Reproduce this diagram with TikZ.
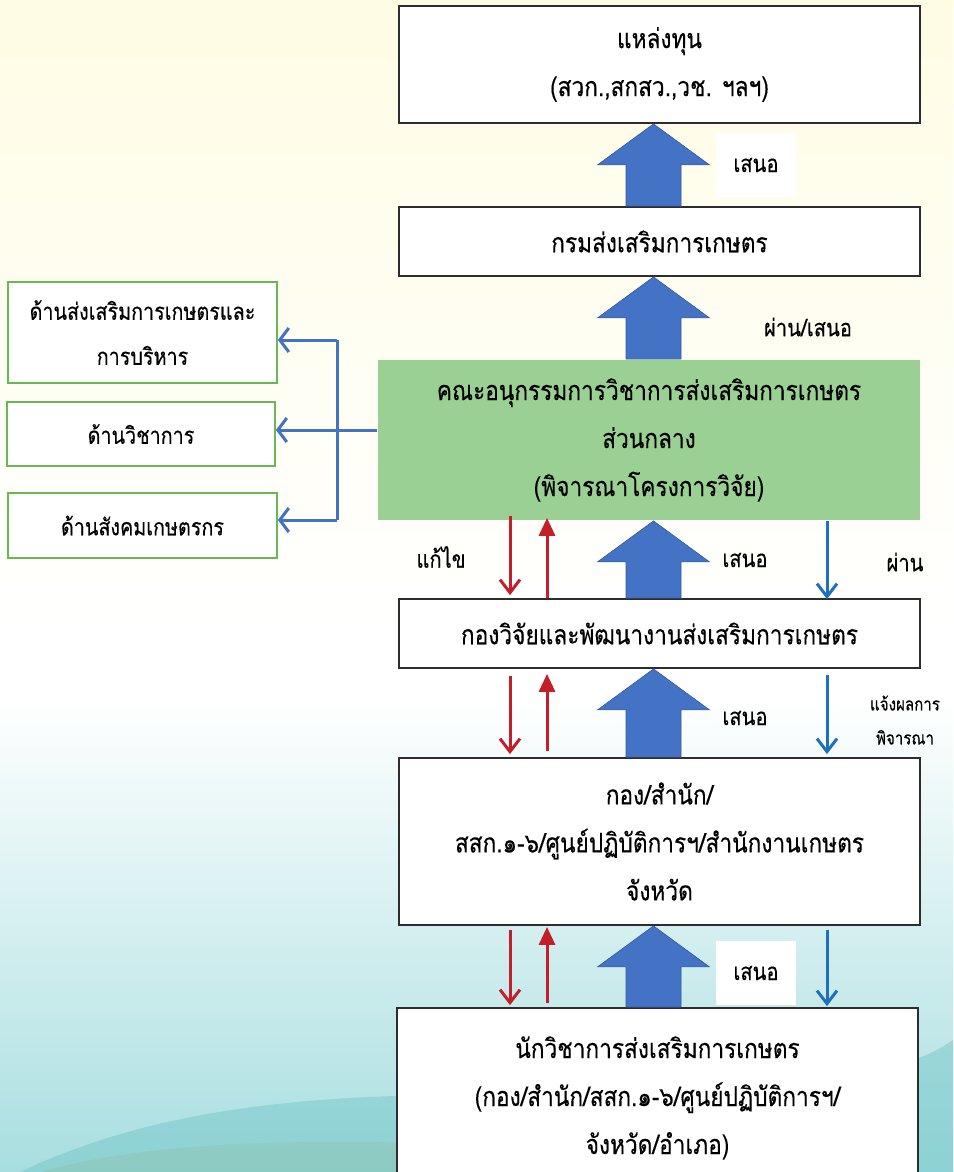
\documentclass[tikz,border=0pt]{standalone}
\usepackage{fontspec}
\newfontfamily\thai[Script=Thai,FakeStretch=0.84,FakeBold=0.3]{Loma}
\usetikzlibrary{arrows.meta,calc}
\definecolor{boxblue}{RGB}{68,114,196}
\definecolor{boxblueedge}{RGB}{52,90,160}
\definecolor{redarr}{RGB}{196,30,42}
\definecolor{bluearr}{RGB}{30,112,190}
\definecolor{connblue}{RGB}{68,114,196}
\definecolor{gfill}{RGB}{155,208,148}
\definecolor{gedge}{RGB}{106,184,84}
\definecolor{bgtop}{RGB}{255,252,228}
\definecolor{bgbot}{RGB}{168,222,224}
\definecolor{wavea}{RGB}{110,196,198}
\definecolor{waveb}{RGB}{140,196,176}
\definecolor{boxedge}{RGB}{45,45,45}
\newcommand\blockup[2]{%
  \filldraw[blockarrow] let \p1=(#1), \p2=(#2), \p3=(b1.south) in
  (\x3-33.5pt,\y1) -- (\x3-33.5pt,\y2-41pt) -- (\x3-62pt,\y2-41pt) -- (\x3-6pt,\y2)
  -- (\x3+50pt,\y2-41pt) -- (\x3+21.5pt,\y2-41pt) -- (\x3+21.5pt,\y1) -- cycle;}
\tikzset{
  mainbox/.style={draw=boxedge, line width=1.8pt, fill=white, inner sep=0pt, align=center,
    font=\thai\fontsize{27}{48}\selectfont},
  sidebox/.style={draw=gedge, line width=1.8pt, fill=white, inner sep=0pt, align=center,
    font=\thai\fontsize{23.5}{45}\selectfont},
  lbl/.style={font=\thai\fontsize{24}{24}\selectfont, inner sep=0pt},
  smalllbl/.style={font=\thai\fontsize{18}{34}\selectfont, inner sep=0pt, align=center},
  whitelbl/.style={lbl, fill=white, minimum width=80pt, minimum height=64pt},
  blockarrow/.style={fill=boxblue, draw=boxblueedge, line width=0.6pt},
  reddown/.style={draw=redarr, line width=3pt, -{Straight Barb[length=13pt,width=20pt,line width=3pt]}},
  redup/.style={draw=redarr, line width=3pt, -{Triangle[length=18pt,width=16pt]}},
  bluedown/.style={draw=bluearr, line width=3pt, -{Straight Barb[length=13pt,width=20pt,line width=3pt]}},
  conn/.style={draw=connblue, line width=3pt},
  connarr/.style={conn, -{Straight Barb[length=9pt,width=24pt,line width=3pt]}}
}
\begin{document}
\begin{tikzpicture}[x=1pt,y=-1pt]
\useasboundingbox (0,0) rectangle (953,1172);
% background
\shade[top color=bgtop, bottom color=white] (0,0) rectangle (953,640);
\fill[white] (0,639) rectangle (953,700);
\shade[top color=white, bottom color=bgbot] (0,699) rectangle (953,1172);
\fill[wavea, opacity=0.45] (20,1172) .. controls (150,1110) and (300,1096) .. (450,1095)
  .. controls (700,1094) and (880,1092) .. (953,1040) -- (953,1172) -- cycle;
\fill[waveb, opacity=0.45] (40,1172) .. controls (120,1150) and (220,1140) .. (380,1142)
  .. controls (500,1145) and (600,1155) .. (700,1172) -- cycle;

% boxes
\node[mainbox, minimum width=521pt, minimum height=117pt] (b1) at (659.5,64.5)
  {แหล่งทุน\\(สวก.,สกสว.,วช. ฯลฯ)};
\node[mainbox, minimum width=521pt, minimum height=69pt] (b2) at (659.5,241.5)
  {กรมส่งเสริมการเกษตร};
\node[mainbox, draw=none, fill=gfill, minimum width=542pt, minimum height=160pt] (g) at (649,440)
  {คณะอนุกรรมการวิชาการส่งเสริมการเกษตร\\ส่วนกลาง\\(พิจารณาโครงการวิจัย)};
\node[mainbox, minimum width=521pt, minimum height=69pt] (b3) at (659.5,633.5)
  {กองวิจัยและพัฒนางานส่งเสริมการเกษตร};
\node[mainbox, minimum width=521pt, minimum height=167pt] (b4) at (659.5,841.5)
  {กอง/สำนัก/\\สสก.๑-๖/ศูนย์ปฏิบัติการฯ/สำนักงานเกษตร\\จังหวัด};
\node[mainbox, minimum width=521pt, minimum height=180pt] (b5) at (657.5,1098)
  {นักวิชาการส่งเสริมการเกษตร\\(กอง/สำนัก/สสก.๑-๖/ศูนย์ปฏิบัติการฯ/\\จังหวัด/อำเภอ)};

\node[sidebox, minimum width=269pt, minimum height=101pt] (L1) at (142.5,332.5)
  {ด้านส่งเสริมการเกษตรและ\\การบริหาร};
\node[sidebox, minimum width=268pt, minimum height=64pt] (L2) at (141,434)
  {ด้านวิชาการ};
\node[sidebox, minimum width=269pt, minimum height=65pt] (L3) at (142.5,525.5)
  {ด้านสังคมเกษตรกร};

% block arrows
\blockup{b2.north}{b1.south}
\blockup{g.north}{b2.south}
\blockup{b3.north}{g.south}
\blockup{b4.north}{b3.south}
\blockup{b5.north}{b4.south}

% labels
\node[whitelbl] (t1) at (756,165) {เสนอ};
\node[lbl] (t2) at (808,327) {ผ่าน/เสนอ};
\node[lbl] (t3) at (441,557) {แก้ไข};
\node[lbl] (t4) at (745,560) {เสนอ};
\node[lbl] (t5) at (905,562) {ผ่าน};
\node[lbl] (t6) at (745,718) {เสนอ};
\node[smalllbl] (t7) at (905,720) {แจ้งผลการ\\พิจารณา};
\node[whitelbl] (t8) at (756,973) {เสนอ};

% side connectors
\coordinate (j1) at (337,340);
\coordinate (j2) at (337,430);
\coordinate (j3) at (337,520);
\draw[conn] (g.west |- j2) -- (j2);
\draw[conn] (j1) -- (j3);
\draw[connarr] (j1) -- (L1.east |- j1);
\draw[connarr] (j2) -- (L2.east |- j2);
\draw[connarr] (j3) -- (L3.east |- j3);

% red / blue thin arrows
\coordinate (rd) at (510,0);
\coordinate (ru) at (547,0);
\coordinate (bd) at (827,0);
\draw[reddown] ($(g.south -| rd)+(0,-5)$) -- ($(b3.north -| rd)+(0,-3)$);
\draw[redup] (b3.north -| ru) -- ($(g.south -| ru)+(0,-3)$);
\draw[bluedown] (g.south -| bd) -- ($(b3.north -| bd)+(0,1)$);

\draw[reddown] ($(b3.south -| rd)+(0,7)$) -- ($(b4.north -| rd)+(0,-3)$);
\draw[redup] ($(b4.north -| ru)+(0,-6)$) -- ($(b3.south -| ru)+(0,5)$);
\draw[bluedown] ($(b3.south -| bd)+(0,6)$) -- ($(b4.north -| bd)+(0,-3)$);

\draw[reddown] ($(b4.south -| rd)+(0,4)$) -- ($(b5.north -| rd)+(0,-2)$);
\draw[redup] ($(b5.north -| ru)+(0,-4)$) -- ($(b4.south -| ru)+(0,1)$);
\draw[bluedown] ($(b4.south -| bd)+(0,4)$) -- ($(b5.north -| bd)+(0,-1)$);
\end{tikzpicture}
\end{document}
